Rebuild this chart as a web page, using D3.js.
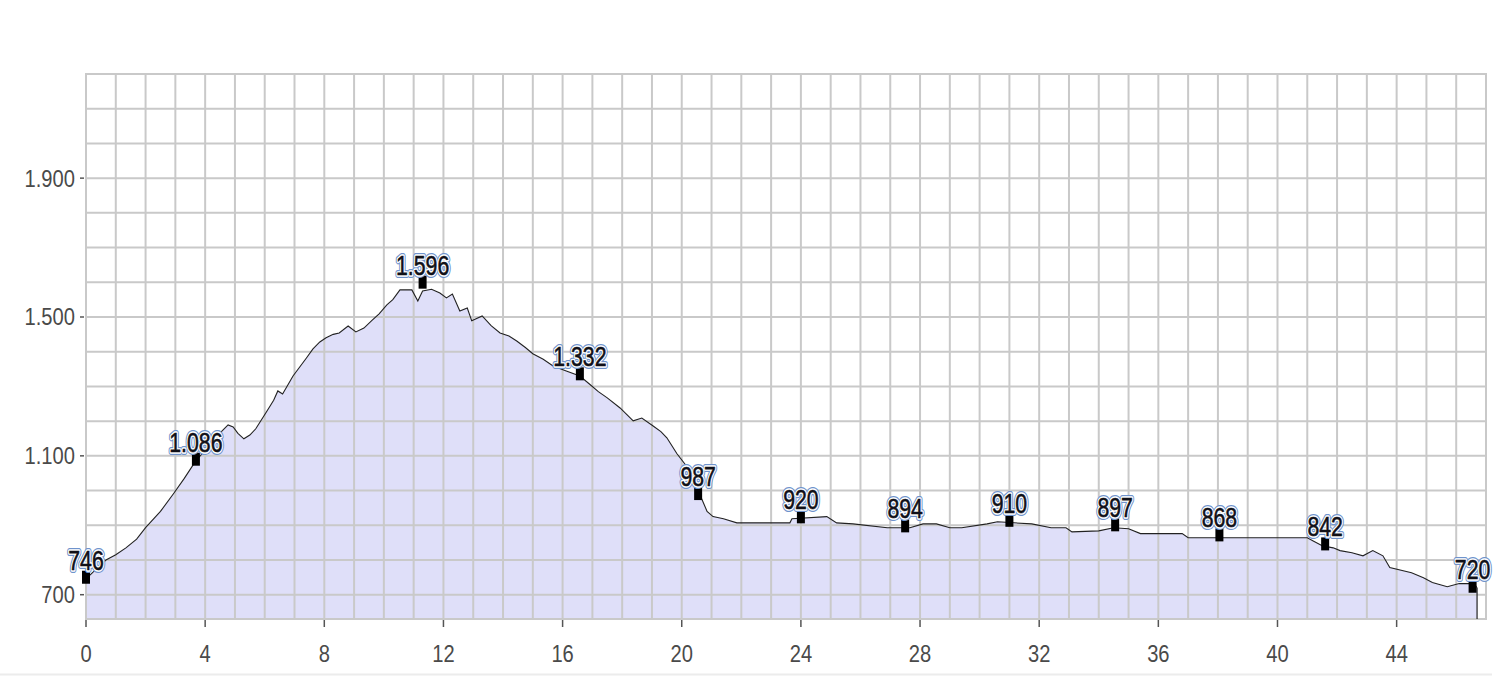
<!DOCTYPE html>
<html>
<head>
<meta charset="utf-8">
<script src="https://cdn.jsdelivr.net/npm/d3@7"></script>
<style>
  html, body { margin: 0; padding: 0; background: #ffffff; }
  svg { display: block; }
  text { font-family: "Liberation Sans", Arial, sans-serif; }
</style>
</head>
<body>
<svg id="chart" width="1500" height="678"></svg>
<script>
// ---- data ----
const profileKm = [0, 0.3, 0.67, 1.0, 1.34, 1.7, 2.0, 2.5, 2.93, 3.3, 3.69, 4.1, 4.47, 4.77, 4.94, 5.1, 5.3, 5.5, 5.7, 6.04, 6.3, 6.44, 6.6, 6.95, 7.15, 7.4, 7.62, 7.85, 8.06, 8.3, 8.5, 8.8, 9.06, 9.33, 9.6, 9.84, 10.1, 10.3, 10.54, 10.94, 11.14, 11.3, 11.6, 11.88, 12.1, 12.3, 12.55, 12.8, 12.95, 13.3, 13.6, 13.9, 14.2, 14.46, 14.75, 15.0, 15.35, 15.68, 16.1, 16.58, 16.9, 17.2, 17.5, 17.93, 18.37, 18.66, 19.04, 19.3, 19.5, 19.84, 20.28, 20.55, 20.85, 21.05, 21.4, 21.85, 23.63, 23.7, 24.87, 25.2, 25.75, 26.9, 27.66, 28.1, 28.55, 29.0, 29.4, 30.25, 30.6, 31.75, 32.4, 32.9, 33.1, 34.0, 34.5, 35.0, 35.4, 36.8, 37.0, 41.0, 41.2, 41.5, 41.87, 42.1, 42.5, 42.87, 43.2, 43.54, 43.77, 44.5, 44.9, 45.2, 45.7, 46.1, 46.6, 46.7];
const profileElev = [746, 770, 800, 815, 835, 860, 893, 940, 990, 1035, 1086, 1125, 1163, 1189, 1183, 1165, 1149, 1160, 1178, 1224, 1260, 1287, 1278, 1330, 1353, 1382, 1408, 1428, 1440, 1450, 1454, 1474, 1457, 1468, 1490, 1509, 1535, 1550, 1578, 1578, 1546, 1575, 1580, 1569, 1555, 1566, 1517, 1526, 1489, 1503, 1475, 1454, 1445, 1431, 1412, 1394, 1378, 1359, 1345, 1330, 1307, 1285, 1267, 1238, 1201, 1209, 1186, 1170, 1152, 1106, 1057, 1000, 940, 925, 919, 907, 907, 919, 925, 907, 904, 893, 893, 904, 904, 893, 893, 904, 910, 904, 893, 893, 881, 884, 893, 890, 876, 876, 864, 864, 855, 841, 835, 827, 821, 812, 827, 812, 778, 763, 749, 735, 723, 732, 732, 720];

const markerKm = [0, 3.69, 11.3, 16.58, 20.55, 24.0, 27.5, 31.0, 34.55, 38.05, 41.6, 46.55];
const markerElev = [746, 1086, 1596, 1332, 987, 920, 894, 910, 897, 868, 842, 720];
const markerLabels = ["746", "1.086", "1.596", "1.332", "987", "920", "894", "910", "897", "868", "842", "720"];

const xTicks = [0, 4, 8, 12, 16, 20, 24, 28, 32, 36, 40, 44];
const yTicks = [700, 1100, 1500, 1900];
const yTickLabels = ["700", "1.100", "1.500", "1.900"];

// ---- layout ----
const mLeft = 86, mRight = 1486, mTop = 74, mBottom = 619;
const svg = d3.select("#chart");
const x = d3.scaleLinear().domain([0, 47]).range([mLeft, mRight]);
const y = d3.scaleLinear().domain([630, 2200]).range([mBottom, mTop]);
const sx = 0.84;   // horizontal condensing of axis text
const lsx = 0.76;  // horizontal condensing of marker labels

// faint bottom line
svg.append("line").attr("x1", 0).attr("x2", 1492).attr("y1", 674.5).attr("y2", 674.5)
  .attr("stroke", "#ececec").attr("stroke-width", 2);

const profile = profileKm.map((k, i) => ({k, e: profileElev[i]}));

// area fill
svg.append("path").datum(profile)
  .attr("d", d3.area().x(d => x(d.k)).y0(mBottom).y1(d => y(d.e)))
  .attr("fill", "#dfdff9");

// grid
const grid = svg.append("g").attr("stroke", "#c9c9c9").attr("stroke-width", 2).attr("fill", "none");
d3.range(0, 48, 1).forEach(v => {
  grid.append("line").attr("x1", x(v)).attr("x2", x(v)).attr("y1", mTop).attr("y2", mBottom);
});
d3.range(700, 2200, 100).forEach(v => {
  grid.append("line").attr("x1", mLeft).attr("x2", mRight).attr("y1", y(v)).attr("y2", y(v));
});
grid.append("rect").attr("x", mLeft).attr("y", mTop).attr("width", mRight - mLeft).attr("height", mBottom - mTop);

// profile line
svg.append("path").datum(profile)
  .attr("d", d3.line().x(d => x(d.k)).y(d => y(d.e)))
  .attr("fill", "none").attr("stroke", "#222").attr("stroke-width", 1.1);
// closing vertical at end
const last = profile[profile.length - 1];
svg.append("line").attr("x1", x(last.k)).attr("x2", x(last.k)).attr("y1", y(last.e)).attr("y2", mBottom)
  .attr("stroke", "#222").attr("stroke-width", 1.2);

// y axis ticks
const yAxis = svg.append("g");
yTicks.forEach((v, i) => {
  yAxis.append("line").attr("x1", mLeft - 6).attr("x2", mLeft - 2).attr("y1", y(v)).attr("y2", y(v))
    .attr("stroke", "#555").attr("stroke-width", 1.5);
  yAxis.append("g").attr("transform", `translate(${mLeft - 11},${y(v) + 8.5}) scale(${sx},1)`)
    .append("text").attr("text-anchor", "end").attr("font-size", 24).attr("fill", "#4a4a4a").text(yTickLabels[i]);
});

// x axis ticks
const xAxis = svg.append("g");
xTicks.forEach(v => {
  xAxis.append("line").attr("x1", x(v)).attr("x2", x(v)).attr("y1", mBottom + 1).attr("y2", mBottom + 8)
    .attr("stroke", "#555").attr("stroke-width", 1.5);
  xAxis.append("g").attr("transform", `translate(${x(v)},${662}) scale(${sx},1)`)
    .append("text").attr("text-anchor", "middle").attr("font-size", 24).attr("fill", "#4a4a4a").text(v);
});

// markers
const mk = svg.append("g");
markerKm.forEach((k, i) => {
  const px = x(k), py = y(markerElev[i]);
  mk.append("rect").attr("x", px - 4).attr("y", py - 8).attr("width", 8).attr("height", 13).attr("fill", "#000");
  const g = mk.append("g").attr("transform", `translate(${px},${py - 9}) scale(${lsx},1)`);
  g.append("text").attr("text-anchor", "middle").attr("font-size", 28)
    .attr("fill", "none").attr("stroke", "#6f93cc").attr("stroke-width", 6).attr("stroke-linejoin", "round")
    .text(markerLabels[i]);
  g.append("text").attr("text-anchor", "middle").attr("font-size", 28)
    .attr("fill", "none").attr("stroke", "#ffffff").attr("stroke-width", 3.5).attr("stroke-linejoin", "round")
    .text(markerLabels[i]);
  g.append("text").attr("text-anchor", "middle").attr("font-size", 28)
    .attr("fill", "#101018").attr("stroke", "#101018").attr("stroke-width", 0.6).text(markerLabels[i]);
});
</script>
</body>
</html>
